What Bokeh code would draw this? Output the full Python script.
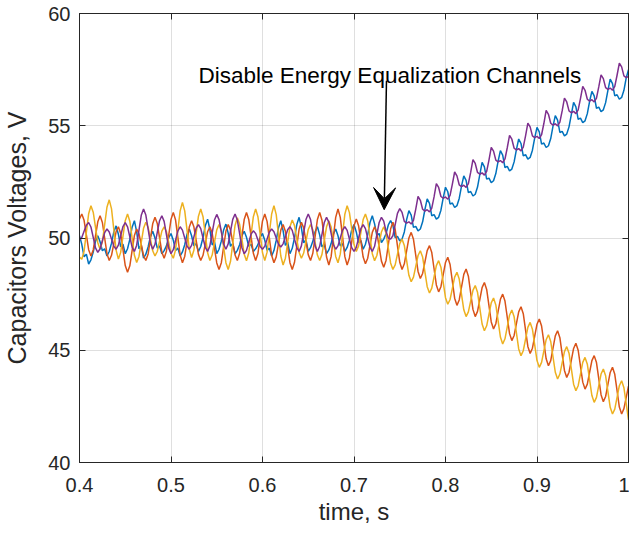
from bokeh.plotting import figure
from bokeh.models import (Range1d, FixedTicker, CustomJSTickFormatter, Label, Arrow,
                          VeeHead, LinearAxis)
from bokeh.embed import file_html
from bokeh.resources import INLINE

# sampling of the recorded waveforms (s)
time_start = 0.4
time_step = 0.0025

blue = [
    50.1, 49.72, 49.16, 49.28, 48.84, 49.03, 49.37, 49.85, 50.1, 49.83,
    49.43, 49.52, 49.2, 49.4, 49.77, 50.27, 50.54, 50.17, 49.61, 49.73,
    49.3, 49.52, 49.94, 50.48, 50.77, 50.27, 49.52, 49.68, 49.1, 49.28,
    49.6, 50.06, 50.3, 50.0, 49.55, 49.65, 49.3, 49.44, 49.65, 50.02,
    50.2, 49.9, 49.45, 49.55, 49.2, 49.38, 49.7, 50.16, 50.4, 50.1,
    49.65, 49.75, 49.4, 49.62, 50.02, 50.55, 50.84, 50.38, 49.69, 49.84,
    49.3, 49.5, 49.86, 50.36, 50.62, 50.22, 49.63, 49.76, 49.3, 49.45,
    49.7, 50.1, 50.3, 50.03, 49.63, 49.72, 49.4, 49.52, 49.7, 50.04,
    50.2, 49.9, 49.45, 49.55, 49.2, 49.44, 49.89, 50.46, 50.77, 50.33,
    49.67, 49.81, 49.3, 49.54, 50.01, 50.6, 50.92, 50.46, 49.78, 49.93,
    49.4, 49.57, 49.85, 50.28, 50.5, 50.14, 49.6, 49.72, 49.3, 49.47,
    49.75, 50.18, 50.4, 50.1, 49.65, 49.75, 49.4, 49.58, 49.9, 50.36,
    50.6, 50.27, 49.78, 49.89, 49.5, 49.72, 50.15, 50.69, 50.99, 50.63,
    50.1, 50.2, 49.8, 49.95, 50.19, 50.58,
    50.77, 50.57, 50.02, 50.07, 49.87, 49.95, 50.27, 50.82,
    51.22, 51.02, 50.47, 50.52, 50.32, 50.4, 50.72, 51.27,
    51.74, 51.54, 50.99, 51.04, 50.84, 50.92, 51.24, 51.79,
    52.26, 52.06, 51.51, 51.56, 51.36, 51.44, 51.76, 52.31,
    52.77, 52.57, 52.02, 52.07, 51.87, 51.95, 52.27, 52.82,
    53.37, 53.17, 52.62, 52.67, 52.47, 52.55, 52.87, 53.42,
    53.89, 53.69, 53.14, 53.19, 52.99, 53.07, 53.39, 53.94,
    54.41, 54.21, 53.66, 53.71, 53.51, 53.59, 53.91, 54.46,
    54.93, 54.73, 54.18, 54.23, 54.03, 54.11, 54.43, 54.98,
    55.45, 55.25, 54.7, 54.75, 54.55, 54.63, 54.95, 55.5,
    56.04, 55.84, 55.29, 55.34, 55.14, 55.22, 55.54, 56.09,
    56.53, 56.33, 55.78, 55.83, 55.63, 55.71, 56.03, 56.58,
    57.08, 56.88, 56.33, 56.38, 56.18, 56.26, 56.58, 57.13,
    57.5,
]

orange = [
    50.85, 51.07, 50.79, 50.14, 49.48, 49.2, 49.47, 50.10, 50.72, 50.99,
    50.69, 50.0, 49.30, 49.0, 49.23, 49.75, 50.28, 50.5, 50.2, 49.49,
    48.77, 48.47, 48.76, 49.44, 50.11, 50.4, 50.19, 49.7, 49.21, 49.0,
    49.29, 49.96, 50.63, 50.92, 50.65, 50.01, 49.37, 49.1, 49.41, 50.12,
    50.83, 51.14, 50.8, 50.02, 49.24, 48.9, 49.18, 49.84, 50.49, 50.77,
    50.5, 49.89, 49.27, 49.0, 49.23, 49.75, 50.28, 50.5, 50.22, 49.55,
    48.89, 48.6, 48.9, 49.6, 50.3, 50.6, 50.36, 49.8, 49.24, 49.0,
    49.32, 50.07, 50.82, 51.14, 50.82, 50.07, 49.32, 49.0, 49.31, 50.04,
    50.76, 51.07, 50.74, 49.99, 49.23, 48.9, 49.16, 49.75, 50.35, 50.6,
    50.3, 49.6, 48.9, 48.6, 48.92, 49.65, 50.39, 50.7, 50.45, 49.85,
    49.26, 49.0, 49.32, 50.07, 50.82, 51.14, 50.79, 49.97, 49.15, 48.8,
    49.17, 50.05, 50.92, 51.29, 50.92, 50.05, 49.17, 48.8, 49.11, 49.83,
    50.54, 50.85, 50.55, 49.85, 49.15, 48.85, 49.1, 49.68, 50.25, 50.5,
    50.23, 49.6, 48.97, 48.7, 49.0, 49.7, 50.4, 50.7, 50.39, 49.65,
    48.92, 48.6, 48.85, 49.43, 50.0, 50.25, 49.94, 49.23, 48.51, 48.2,
    48.42, 48.93, 49.44, 49.66, 49.35, 48.63, 47.91, 47.6, 47.83, 48.37,
    48.91, 49.14, 48.82, 48.07, 47.32, 47.0, 47.24, 47.81, 48.38, 48.62,
    48.3, 47.56, 46.82, 46.5, 46.73, 47.26, 47.79, 48.02, 47.71, 46.99,
    46.26, 45.95, 46.18, 46.73, 47.27, 47.5, 47.19, 46.47, 45.74, 45.43,
    45.66, 46.19, 46.71, 46.94, 46.63, 45.9, 45.17, 44.86, 45.09, 45.63,
    46.16, 46.39, 46.08, 45.35, 44.62, 44.31, 44.54, 45.09, 45.64, 45.87,
    45.56, 44.83, 44.1, 43.79, 44.02, 44.55, 45.08, 45.31, 45.0, 44.29,
    43.58, 43.27, 43.49, 44.02, 44.54, 44.76, 44.45, 43.74, 43.02, 42.71,
    42.94, 43.48, 44.01, 44.24, 43.93, 43.2, 42.47, 42.16, 42.4, 42.9,
    43.4,
]

yellow = [
    49.15, 49.05, 49.41, 50.25, 51.08, 51.44, 51.15, 50.47, 49.79, 49.5,
    49.83, 50.6, 51.37, 51.70, 51.3, 50.38, 49.46, 49.06, 49.36, 50.07,
    50.77, 51.07, 50.75, 49.99, 49.23, 48.91, 49.18, 49.81, 50.43, 50.7,
    50.48, 49.95, 49.43, 49.2, 49.4, 49.85, 50.31, 50.5, 50.29, 49.8,
    49.31, 49.1, 49.47, 50.34, 51.21, 51.58, 51.21, 50.36, 49.5, 49.13,
    49.45, 50.21, 50.97, 51.29, 50.95, 50.15, 49.34, 49.0, 49.24, 49.8,
    50.36, 50.6, 50.3, 49.6, 48.9, 48.6, 48.95, 49.75, 50.56, 50.9,
    50.61, 49.95, 49.28, 48.99, 49.34, 50.14, 50.95, 51.29, 50.95, 50.15,
    49.34, 49.0, 49.37, 50.22, 51.07, 51.44, 51.04, 50.12, 49.2, 48.8,
    49.1, 49.8, 50.5, 50.8, 50.55, 49.95, 49.36, 49.1, 49.33, 49.85,
    50.38, 50.6, 50.36, 49.8, 49.24, 49.0, 49.27, 49.89, 50.5, 50.77,
    50.49, 49.84, 49.18, 48.9, 49.28, 50.17, 51.06, 51.44, 51.13, 50.42,
    49.71, 49.4, 49.65, 50.24, 50.82, 51.07, 50.76, 50.03, 49.3, 48.99,
    49.22, 49.75, 50.27, 50.5, 50.22, 49.55, 48.89, 48.6, 48.8, 49.28,
    49.75, 49.95, 49.67, 49.0, 48.34, 48.05, 48.26, 48.74, 49.22, 49.43,
    49.15, 48.49, 47.83, 47.55, 47.77, 48.27, 48.77, 48.99, 48.7, 48.02,
    47.34, 47.05, 47.26, 47.76, 48.26, 48.47, 48.17, 47.49, 46.8, 46.5,
    46.71, 47.19, 47.67, 47.88, 47.58, 46.88, 46.17, 45.87, 46.09, 46.6,
    47.11, 47.33, 47.02, 46.31, 45.59, 45.28, 45.51, 46.04, 46.56, 46.79,
    46.49, 45.78, 45.06, 44.76, 44.98, 45.5, 46.02, 46.24, 45.94, 45.24,
    44.54, 44.24, 44.46, 44.97, 45.47, 45.69, 45.39, 44.71, 44.02, 43.72,
    43.94, 44.44, 44.94, 45.16, 44.87, 44.18, 43.49, 43.2, 43.42, 43.94,
    44.46, 44.68, 44.38, 43.68, 42.98, 42.68, 42.9, 43.42, 43.94, 44.16,
    43.86, 43.16, 42.46, 42.16, 42.38, 42.9, 43.42, 43.64, 43.33, 42.62,
    41.9,
]

purple = [
    49.9, 50.02, 50.3, 50.57, 50.69, 50.49, 50.03, 49.56, 49.36, 49.52,
    49.88, 50.24, 50.4, 50.27, 49.95, 49.64, 49.5, 49.68, 50.1, 50.51,
    50.69, 50.5, 50.05, 49.59, 49.4, 49.68, 50.35, 51.01, 51.29, 51.02,
    50.4, 49.77, 49.5, 49.72, 50.25, 50.77, 50.99, 50.74, 50.15, 49.55,
    49.3, 49.48, 49.9, 50.32, 50.5, 50.35, 50.0, 49.65, 49.5, 49.67,
    50.05, 50.44, 50.6, 50.42, 50.0, 49.58, 49.4, 49.65, 50.23, 50.8,
    51.05, 50.82, 50.28, 49.73, 49.5, 49.74, 50.29, 50.83, 51.07, 50.8,
    50.19, 49.57, 49.3, 49.45, 49.81, 50.17, 50.32, 50.2, 49.91, 49.62,
    49.5, 49.64, 49.95, 50.27, 50.4, 50.28, 50.0, 49.72, 49.6, 49.74,
    50.05, 50.37, 50.5, 50.34, 49.95, 49.57, 49.4, 49.65, 50.24, 50.82,
    51.07, 50.82, 50.24, 49.65, 49.4, 49.63, 50.16, 50.69, 50.92, 50.71,
    50.21, 49.71, 49.5, 49.65, 50.0, 50.35, 50.5, 50.34, 49.95, 49.57,
    49.4, 49.58, 50.0, 50.42, 50.6, 50.42, 50.0, 49.58, 49.4, 49.63,
    50.16, 50.69, 50.92, 50.75, 50.3, 50.0, 49.95, 50.1, 50.6, 51.1,
    51.31, 51.14, 50.74, 50.66, 50.72, 50.62, 50.79, 51.29,
    51.85, 51.68, 51.28, 51.2, 51.26, 51.16, 51.33, 51.83,
    52.42, 52.25, 51.85, 51.77, 51.83, 51.73, 51.9, 52.4,
    52.94, 52.77, 52.37, 52.29, 52.35, 52.25, 52.42, 52.92,
    53.49, 53.32, 52.92, 52.84, 52.9, 52.8, 52.97, 53.47,
    54.04, 53.87, 53.47, 53.39, 53.45, 53.35, 53.52, 54.02,
    54.57, 54.4, 54.0, 53.92, 53.98, 53.88, 54.05, 54.55,
    55.12, 54.95, 54.55, 54.47, 54.53, 54.43, 54.6, 55.1,
    55.68, 55.51, 55.11, 55.03, 55.09, 54.99, 55.16, 55.66,
    56.23, 56.06, 55.66, 55.58, 55.64, 55.54, 55.71, 56.21,
    56.75, 56.58, 56.18, 56.1, 56.16, 56.06, 56.23, 56.73,
    57.27, 57.1, 56.7, 56.62, 56.68, 56.58, 56.75, 57.25,
    57.79, 57.62, 57.22, 57.14, 57.2,
]

series_colors = ["#0072BD", "#D95319", "#EDB120", "#7E2F8E"]
x_ticks = [0.4, 0.5, 0.6, 0.7, 0.8, 0.9, 1.0]
y_ticks = [40, 45, 50, 55, 60]
x_label = "time, s"
y_label = "Capacitors Voltages, V"
note_text = "Disable Energy Equalization Channels"
note_xy = (0.5301, 57.23)
arrow_from = (0.7355, 57.0)
arrow_to = (0.7330, 51.26)

FONT = "Liberation Sans"
INK = "#262626"

p = figure(width=629, height=539, output_backend="svg", toolbar_location=None,
           x_range=Range1d(0.4, 1.0), y_range=Range1d(40, 60),
           min_border_left=76, min_border_right=1, min_border_top=13,
           min_border_bottom=77)
p.background_fill_color = "white"
p.border_fill_color = "white"
p.outline_line_color = INK
p.outline_line_width = 1
p.outline_line_alpha = 1.0

for ys, c in zip([blue, orange, yellow, purple], series_colors):
    ts = [round(time_start + time_step * i, 5) for i in range(len(ys))]
    p.line(ts, ys, line_color=c, line_width=1.5)

p.xaxis.ticker = FixedTicker(ticks=x_ticks)
p.yaxis.ticker = FixedTicker(ticks=y_ticks)
p.xgrid.ticker = FixedTicker(ticks=x_ticks)
p.ygrid.ticker = FixedTicker(ticks=y_ticks)
p.xaxis.formatter = CustomJSTickFormatter(code="return String(Math.round(tick*10)/10);")
p.xaxis.axis_label = x_label
p.yaxis.axis_label = y_label

for ax in (p.xaxis[0], p.yaxis[0]):
    ax.axis_line_color = INK
    ax.axis_line_width = 1
    ax.major_tick_line_color = INK
    ax.major_tick_in = 6
    ax.major_tick_out = 0
    ax.minor_tick_in = 0
    ax.minor_tick_out = 0
    ax.major_label_text_font = FONT
    ax.major_label_text_font_size = "20px"
    ax.major_label_text_color = INK
    ax.axis_label_text_font = FONT
    ax.axis_label_text_font_style = "normal"
    ax.axis_label_text_color = INK

p.xaxis.axis_label_text_font_size = "24px"
p.yaxis.axis_label_text_font_size = "25px"
p.xaxis.major_label_standoff = 15
p.xaxis.axis_label_standoff = 3
p.yaxis.major_label_standoff = 9
p.yaxis.axis_label_standoff = 14

# mirrored tick marks on the top and right edges of the box
blank = CustomJSTickFormatter(code="return '';")
top_ax = LinearAxis(ticker=FixedTicker(ticks=x_ticks), formatter=blank,
                    major_label_text_font_size="0px", major_label_standoff=0,
                    major_tick_in=6, major_tick_out=0, minor_tick_in=0, minor_tick_out=0,
                    axis_line_color=INK, major_tick_line_color=INK)
right_ax = LinearAxis(ticker=FixedTicker(ticks=y_ticks), formatter=blank,
                      major_label_text_font_size="0px", major_label_standoff=0,
                      major_tick_in=6, major_tick_out=0, minor_tick_in=0, minor_tick_out=0,
                      axis_line_color=INK, major_tick_line_color=INK)
p.add_layout(top_ax, "above")
p.add_layout(right_ax, "right")

p.grid.grid_line_color = INK
p.grid.grid_line_alpha = 0.15
p.grid.grid_line_width = 1

p.add_layout(Label(x=note_xy[0], y=note_xy[1], text=note_text,
                   text_font=FONT, text_font_size="22.5px", text_color="black",
                   text_baseline="alphabetic", text_align="left"))
p.add_layout(Arrow(end=VeeHead(size=22, fill_color="black", line_color="black"),
                   x_start=arrow_from[0], y_start=arrow_from[1],
                   x_end=arrow_to[0], y_end=arrow_to[1],
                   line_color="black", line_width=1.5))

open("out.html", "w").write(file_html(p, INLINE))
